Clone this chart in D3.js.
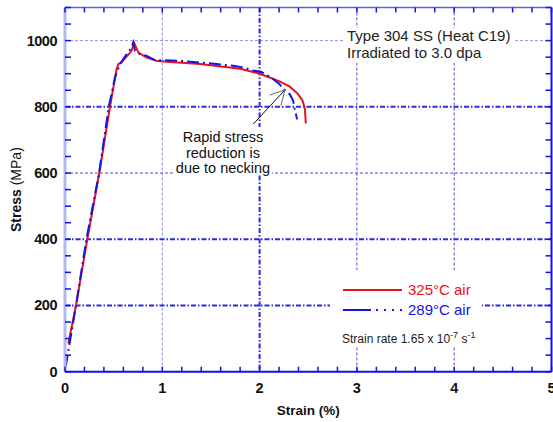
<!DOCTYPE html>
<html>
<head>
<meta charset="utf-8">
<script src="https://cdn.jsdelivr.net/npm/d3@7"></script>
<style>
  body { margin: 0; background: #fff; }
  text { font-family: "Liberation Sans", Arial, sans-serif; }
</style>
</head>
<body>
<div id="chart"></div>
<script>
// Data (strain in %, stress in MPa)
const redStrain = [0.034, 0.113, 0.229, 0.353, 0.462, 0.531, 0.548, 0.58, 0.685, 0.709, 0.754, 0.84, 0.94, 1.045, 1.387, 1.8, 2.0, 2.11, 2.21, 2.31, 2.39, 2.44, 2.465, 2.475];
const redStress = [85, 200, 400, 600, 800, 914, 929, 934, 969, 994, 964, 949, 939, 936, 929, 915, 900, 888, 876, 861, 840, 820, 795, 750];

const blueStrain = [0.007, 0.113, 0.22, 0.35, 0.45, 0.514, 0.565, 0.634, 0.685, 0.702, 0.72, 0.77, 0.84, 0.925, 1.01, 1.18, 1.387, 1.73, 1.83, 1.93, 2.02, 2.12, 2.2, 2.245, 2.31, 2.345, 2.36, 2.372, 2.385];
const blueStress = [15, 200, 400, 600, 800, 889, 929, 959, 979, 994, 969, 959, 954, 941, 941, 939, 934, 924, 919, 910, 905, 888, 870, 854, 838, 818, 795, 780, 762];

const xTicks = [0, 1, 2, 3, 4, 5];
const yTicks = [0, 200, 400, 600, 800, 1000];
const xMinor = d3.range(0, 5.001, 0.2);
const yMinor = d3.range(0, 1100.1, 50);
const heavyX = [2];
const heavyY = [200, 400, 800];

const seriesLabels = ["325\u00B0C air", "289\u00B0C air"];
const noteLines = ["Rapid stress", "reduction is", "due to necking"];
const titleLines = ["Type 304 SS (Heat C19)", "Irradiated to 3.0 dpa"];
// arrow from note text to necking point, in data units
const arrowFrom = [1.935, 748];
const arrowTo = [2.26, 851];

const W = 553, H = 422;
const margin = { top: 7.5, right: 1.5, bottom: 50.3, left: 65 };

const RED = "#e8121c";
const BLUE = "#1414e6";
const GRID = "#2a2ae0";
const blueDash = "12,4,2,4";

const svg = d3.select("#chart").append("svg")
    .attr("width", W)
    .attr("height", H);

const x = d3.scaleLinear().domain([0, 5]).range([margin.left, W - margin.right]);
const y = d3.scaleLinear().domain([0, 1100]).range([H - margin.bottom, margin.top]);

// Grid lines
const grid = svg.append("g");
xTicks.filter(d => d > 0 && d < 5).forEach(d => {
    const heavy = heavyX.includes(d);
    grid.append("line")
        .attr("x1", x(d)).attr("x2", x(d))
        .attr("y1", y(1100)).attr("y2", y(0))
        .attr("stroke", GRID)
        .attr("stroke-width", heavy ? 2 : 1)
        .attr("stroke-opacity", heavy ? 1 : (d === 1 ? 0.55 : 0.85))
        .attr("stroke-dasharray", heavy ? "5,2,1.5,2" : "3,2");
});
yTicks.filter(d => d > 0).forEach(d => {
    const heavy = heavyY.includes(d);
    grid.append("line")
        .attr("x1", x(0)).attr("x2", x(5))
        .attr("y1", y(d)).attr("y2", y(d))
        .attr("stroke", GRID)
        .attr("stroke-width", heavy ? 2 : 1)
        .attr("stroke-opacity", heavy ? 1 : (d === 1000 ? 0.5 : 0.85))
        .attr("stroke-dasharray", heavy ? "5,2,1.5,2" : "3,2");
});

// White boxes behind text blocks (they hide the grid like in the original)
svg.append("rect").attr("x", 345).attr("y", 28).attr("width", 170).attr("height", 35).attr("fill", "#fff");
svg.append("rect").attr("x", 175).attr("y", 127).attr("width", 97).attr("height", 47).attr("fill", "#fff");
svg.append("rect").attr("x", 330).attr("y", 270).attr("width", 152).attr("height", 77).attr("fill", "#fff");

// Curves
const line = d3.line().x(d => x(d[0])).y(d => y(d[1]));

svg.append("path")
    .datum(d3.zip(redStrain, redStress))
    .attr("d", line)
    .attr("fill", "none")
    .attr("stroke", RED)
    .attr("stroke-width", 2);

svg.append("path")
    .datum(d3.zip(blueStrain, blueStress))
    .attr("d", line)
    .attr("fill", "none")
    .attr("stroke", BLUE)
    .attr("stroke-width", 2)
    .attr("stroke-dasharray", blueDash);

// Axes frame
svg.append("line").attr("x1", x(0)).attr("x2", x(0)).attr("y1", y(1100)).attr("y2", y(0))
    .attr("stroke", "#b4b8f2").attr("stroke-width", 3);
svg.append("line").attr("x1", x(0)).attr("x2", x(5)).attr("y1", y(1100)).attr("y2", y(1100))
    .attr("stroke", "#5a60ee").attr("stroke-width", 1.5);
svg.append("line").attr("x1", x(0)).attr("x2", x(5)).attr("y1", y(0)).attr("y2", y(0))
    .attr("stroke", "#1010f0").attr("stroke-width", 2);
svg.append("line").attr("x1", x(5)).attr("x2", x(5)).attr("y1", y(1100)).attr("y2", y(0))
    .attr("stroke", "#1010f0").attr("stroke-width", 2);

// Inward ticks on all four sides
const ticks = svg.append("g").attr("stroke", "#1010f0").attr("stroke-width", 1.5);
xMinor.forEach(d => {
    ticks.append("line").attr("x1", x(d)).attr("x2", x(d)).attr("y1", y(0)).attr("y2", y(0) - 5);
    ticks.append("line").attr("x1", x(d)).attr("x2", x(d)).attr("y1", y(1100)).attr("y2", y(1100) + 5);
});
yMinor.forEach(d => {
    ticks.append("line").attr("x1", x(0)).attr("x2", x(0) + 6).attr("y1", y(d)).attr("y2", y(d));
    ticks.append("line").attr("x1", x(5)).attr("x2", x(5) - 6).attr("y1", y(d)).attr("y2", y(d));
});

// Tick labels
svg.append("g").selectAll("text")
    .data(xTicks)
    .join("text")
    .attr("x", d => x(d))
    .attr("y", y(0) + 21)
    .attr("text-anchor", "middle")
    .attr("font-size", 14.5)
    .attr("font-weight", "bold")
    .attr("fill", "#111")
    .text(d => d);

svg.append("g").selectAll("text")
    .data(yTicks)
    .join("text")
    .attr("x", x(0) - 8)
    .attr("y", d => y(d) + 5)
    .attr("text-anchor", "end")
    .attr("font-size", 14.5)
    .attr("font-weight", "bold")
    .attr("letter-spacing", -0.5)
    .attr("fill", "#111")
    .text(d => d);

// Axis titles
svg.append("text")
    .attr("x", (x(0) + x(5)) / 2)
    .attr("y", 415)
    .attr("text-anchor", "middle")
    .attr("font-size", 13.5)
    .attr("font-weight", "bold")
    .attr("fill", "#111")
    .text("Strain (%)");

const yTitle = svg.append("text")
    .attr("transform", `translate(21,${y(550)}) rotate(-90)`)
    .attr("text-anchor", "middle")
    .attr("font-size", 14)
    .attr("fill", "#111");
yTitle.append("tspan").attr("font-weight", "bold").text("Stress ");
yTitle.append("tspan").text("(MPa)");

// Title block
svg.append("g").selectAll("text")
    .data(titleLines)
    .join("text")
    .attr("x", 347)
    .attr("y", (d, i) => 41 + i * 17)
    .attr("font-size", 15)
    .attr("fill", "#222")
    .text(d => d);

// Necking note and arrow
svg.append("g").selectAll("text")
    .data(noteLines)
    .join("text")
    .attr("x", 223)
    .attr("y", (d, i) => 142 + i * 15.5)
    .attr("text-anchor", "middle")
    .attr("font-size", 14.5)
    .attr("fill", "#111")
    .text(d => d);

const ax0 = x(arrowFrom[0]), ay0 = y(arrowFrom[1]);
const ax1 = x(arrowTo[0]), ay1 = y(arrowTo[1]);
svg.append("line")
    .attr("x1", ax0).attr("y1", ay0).attr("x2", ax1).attr("y2", ay1)
    .attr("stroke", "#111").attr("stroke-width", 1);
const ang = Math.atan2(ay1 - ay0, ax1 - ax0);
const headLen = 16, spread = 0.5;
[ -spread, spread ].forEach(s => {
    svg.append("line")
        .attr("x1", ax1).attr("y1", ay1)
        .attr("x2", ax1 - headLen * Math.cos(ang + s))
        .attr("y2", ay1 - headLen * Math.sin(ang + s))
        .attr("stroke", "#666").attr("stroke-width", 1);
});

// Legend
const legend = svg.append("g");
const legendColors = [RED, BLUE];
seriesLabels.forEach((label, i) => {
    const ly = 290 + i * 20;
    legend.append("line")
        .attr("x1", 343).attr("x2", 402)
        .attr("y1", ly).attr("y2", ly)
        .attr("stroke", legendColors[i])
        .attr("stroke-width", 2)
        .attr("stroke-dasharray", i === 1 ? "28,5,2,6,2,6,2,6" : null);
    legend.append("text")
        .attr("x", 408)
        .attr("y", ly + 5)
        .attr("font-size", 15)
        .attr("fill", legendColors[i])
        .text(label);
});

const rate = legend.append("text")
    .attr("x", 342)
    .attr("y", 343)
    .attr("font-size", 12)
    .attr("fill", "#222");
rate.append("tspan").text("Strain rate 1.65 x 10");
rate.append("tspan").attr("dy", -5).attr("font-size", 9).text("-7");
rate.append("tspan").attr("dy", 5).text(" s");
rate.append("tspan").attr("dy", -5).attr("font-size", 9).text("-1");
</script>
</body>
</html>
